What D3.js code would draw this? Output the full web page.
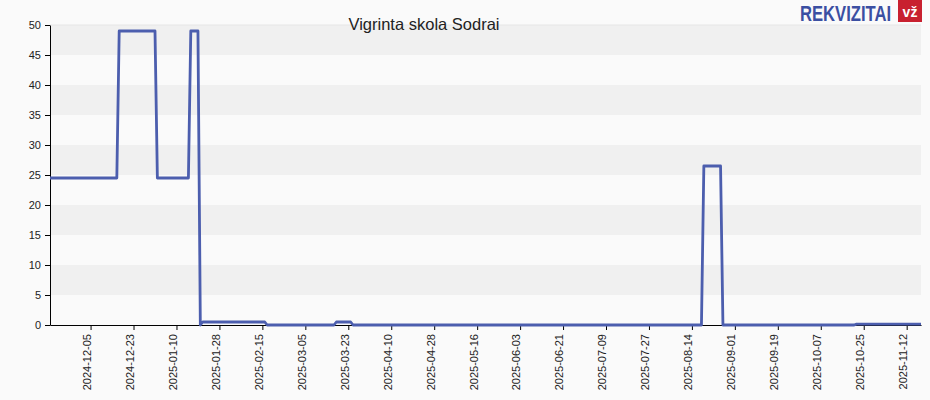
<!DOCTYPE html>
<html><head><meta charset="utf-8">
<script src="https://cdn.jsdelivr.net/npm/d3@7"></script>
<style>html,body{margin:0;padding:0;background:#fafafa;}svg{display:block;}</style>
</head><body>
<script>
const title = "Vigrinta skola Sodrai";
const dates = ["2024-11-18","2024-12-16","2024-12-17","2025-01-01","2025-01-02","2025-01-15","2025-01-16","2025-01-19","2025-01-20","2025-01-21","2025-02-16","2025-02-17","2025-03-17","2025-03-18","2025-03-24","2025-03-25","2025-08-18","2025-08-19","2025-08-26","2025-08-27","2025-10-21","2025-10-22","2025-11-18"];
const values = [24.5,24.5,49,49,24.5,24.5,49,49,0,0.5,0.5,0,0,0.5,0.5,0,0,26.5,26.5,0,0,0.15,0.15];
const yTicks = [0,5,10,15,20,25,30,35,40,45,50];
const xTickStart = "2024-12-05", xTickStepDays = 18, xTickCount = 20;
const domainDates = ["2024-11-18","2025-11-18"];

const W = 930, H = 400;
const m = {l:50, r:9, t:25, b:75};
const parse = d3.utcParse("%Y-%m-%d");
const fmt = d3.utcFormat("%Y-%m-%d");
const svg = d3.select("body").append("svg").attr("width",W).attr("height",H);
svg.append("rect").attr("width",W).attr("height",H).attr("fill","#fafafa");

const x = d3.scaleUtc().domain(domainDates.map(parse)).range([m.l, W-m.r]);
const y = d3.scaleLinear().domain([0,50]).range([H-m.b, m.t]);

// bands
for (let i=0;i<yTicks.length-1;i++){
  if (i%2===1){
    svg.append("rect").attr("x",m.l).attr("width",W-m.r-m.l)
      .attr("y",y(yTicks[i+1])).attr("height",y(yTicks[i])-y(yTicks[i+1]))
      .attr("fill","#f0f0f0");
  }
}
svg.append("line").attr("x1",m.l).attr("x2",W-m.r).attr("y1",y(50)).attr("y2",y(50))
  .attr("stroke","#e6e6e6").attr("stroke-width",1);

// title
svg.append("text").attr("x",424).attr("y",30).attr("text-anchor","middle")
  .attr("font-family","Liberation Sans, Arial, sans-serif").attr("font-size",16.5).attr("fill","#222")
  .text(title);

// logo
svg.append("text").attr("transform","translate(800,20.5) scale(0.755,1)")
  .attr("font-family","Liberation Sans, Arial, sans-serif")
  .attr("font-weight","bold").attr("font-size",22).attr("fill","#3b4fa2").text("REKVIZITAI");
svg.append("rect").attr("x",898).attr("y",0).attr("width",24).attr("height",22).attr("fill","#c8202f");
svg.append("text").attr("x",910).attr("y",17).attr("text-anchor","middle").attr("font-family","Liberation Sans, Arial, sans-serif")
  .attr("font-weight","bold").attr("font-size",14).attr("fill","#fff").text("vž");

// axes
const xTicks = d3.range(xTickCount).map(i => d3.utcDay.offset(parse(xTickStart), i*xTickStepDays));
const xAxis = d3.axisBottom(x).tickValues(xTicks).tickFormat(fmt).tickSize(5).tickSizeOuter(0);
const gx = svg.append("g").attr("transform",`translate(0,${H-m.b})`).call(xAxis);
gx.select(".domain").attr("stroke","#000");
gx.selectAll(".tick line").attr("stroke","#000");
gx.selectAll("text").attr("font-family","Liberation Sans, Arial, sans-serif").attr("font-size",11).attr("fill","#222")
  .attr("transform","rotate(-90)").attr("text-anchor","end").attr("x",-9).attr("y",-4).attr("dy","0.35em");

const yAxis = d3.axisLeft(y).tickValues(yTicks).tickSize(5).tickSizeOuter(0);
const gy = svg.append("g").attr("transform",`translate(${m.l},0)`).call(yAxis);
gy.select(".domain").attr("stroke","#000");
gy.selectAll(".tick line").attr("stroke","#000");
gy.selectAll("text").attr("font-family","Liberation Sans, Arial, sans-serif").attr("font-size",11).attr("fill","#222").attr("x",-9);

// line
const pts = dates.map((d,i)=>({d:parse(d), v:values[i]}));
const line = d3.line().x(p=>x(p.d)).y(p=>y(p.v));
svg.append("path").datum(pts).attr("d",line).attr("fill","none")
  .attr("stroke","#4c5eae").attr("stroke-width",2.8).attr("stroke-linejoin","round");
</script>
</body></html>
